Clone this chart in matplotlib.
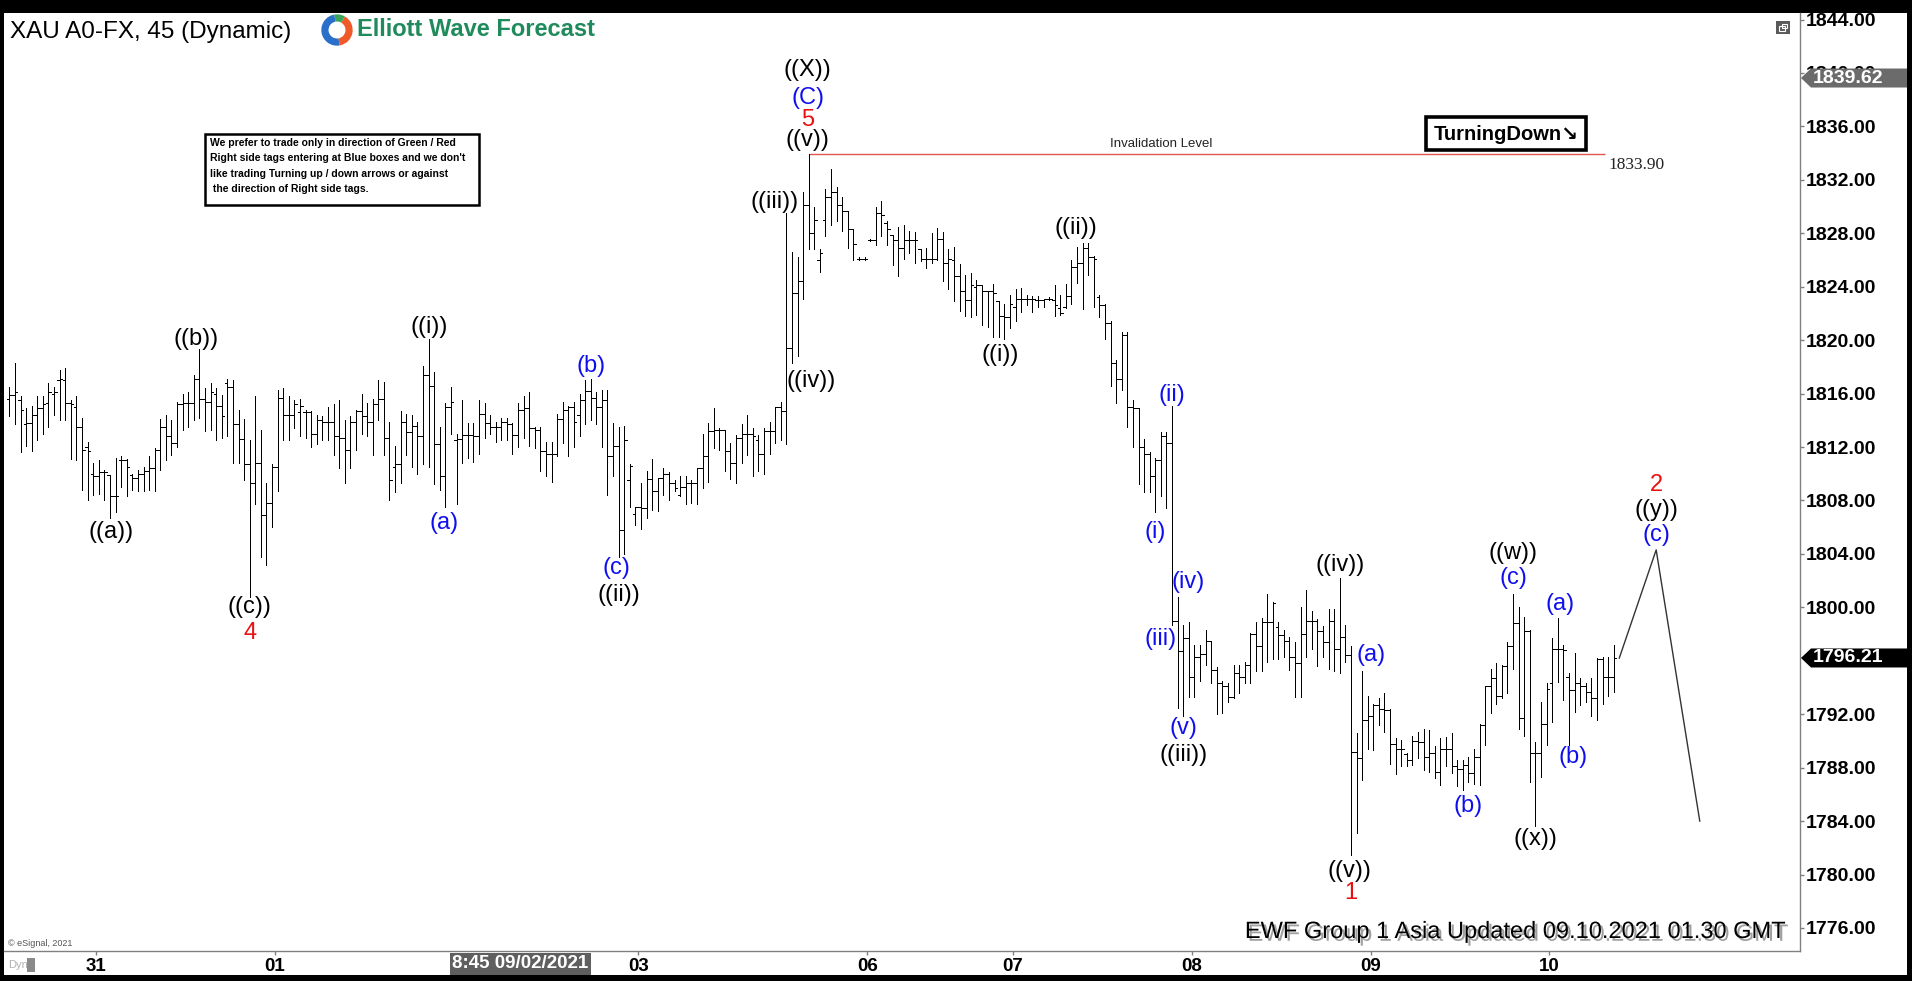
import matplotlib
matplotlib.use("Agg")
import matplotlib.pyplot as plt
import matplotlib.patches as mpatches
import matplotlib.transforms as mtransforms
import matplotlib.patheffects as pe
from matplotlib.collections import LineCollection
from matplotlib import font_manager

# ---------------- data (XAU 45 min bars) ----------------
opens = [
    # Aug 31
    1815.6, 1815.9, 1815.5, 1813.7, 1813.8, 1814.4, 1814.9, 1815.3, 1816.0, 1817.0,
    1817.0, 1815.3, 1815.0, 1813.5, 1812.0, 1810.0, 1809.8, 1810.1, 1809.9, 1808.3,
    1811.0, 1811.0, 1809.9, 1809.7, 1810.0, 1810.2, 1810.4, 1811.8, 1813.5, 1812.8,
    1812.3, 1815.2, 1815.3, 1815.3, 1817.1, 1815.6, 1815.4, 1816.0, 1815.1, 1816.8,
    1816.5, 1813.7, 1812.6, 1810.7, 1809.3, 1810.8, 1806.9, 1807.8, 1810.5, 1815.7,
    1814.4, 1814.4, 1814.6, 1814.6, 1814.6, 1813.0,
    # Sep 01 - 02
    1814.0, 1813.9, 1813.9, 1812.8, 1812.7, 1811.8, 1813.9, 1814.7, 1814.3, 1813.9,
    1815.2, 1815.6, 1812.7, 1810.5, 1810.7, 1813.9, 1813.1, 1813.6, 1812.8, 1817.4,
    1816.6, 1812.2, 1809.8, 1815.0, 1812.5, 1812.6, 1812.9, 1812.9, 1812.8, 1814.5,
    1813.8, 1813.5, 1813.5, 1813.9, 1813.7, 1812.9, 1814.8, 1814.9, 1813.4, 1813.3,
    1811.7, 1811.5, 1811.5, 1814.1, 1814.8, 1815.0, 1814.4, 1815.5, 1816.2, 1815.7,
    1815.0, 1815.5, 1811.3, 1812.1, 1805.8, 1809.5, 1807.0,
    # Sep 03 - 06
    1807.5, 1807.4, 1809.6, 1808.7, 1809.7, 1810.0, 1809.3, 1808.4, 1809.0, 1809.3,
    1809.3, 1810.4, 1811.3, 1813.2, 1813.3, 1813.3, 1811.7, 1810.8, 1812.7, 1813.0,
    1813.0, 1812.5, 1811.5, 1813.2, 1813.2, 1815.0, 1814.7, 1819.4, 1823.5, 1824.4,
    1830.1, 1828.0, 1826.0, 1829.0, 1830.7, 1831.1, 1830.1, 1829.7, 1828.3, 1826.1,
    1826.1, 1827.5, 1827.5, 1829.5, 1828.8, 1827.9, 1827.5, 1826.9, 1827.5, 1827.5,
    1826.8, 1826.1, 1826.1, 1826.1, 1827.6, 1825.8,
    # Sep 06 - 07
    1826.0, 1824.8, 1823.7, 1823.0, 1824.0, 1824.1, 1823.7, 1823.7, 1822.9, 1821.8,
    1821.7, 1822.5, 1823.1, 1823.1, 1823.1, 1823.0, 1823.0, 1823.1, 1823.0, 1822.4,
    1822.5, 1823.3, 1825.5, 1825.8, 1826.9, 1826.2, 1823.2, 1822.6, 1821.3, 1818.3,
    1817.1, 1820.4, 1815.0, 1814.9, 1812.0, 1811.5, 1809.8, 1811.0, 1812.8, 1812.3,
    1799.0, 1796.7, 1797.7, 1794.8, 1796.3, 1796.5, 1797.5, 1795.3, 1794.3, 1794.1,
    1793.3, 1795.1, 1794.8, 1795.7, 1798.0,
    # Sep 08 - 09
    1797.1, 1798.9, 1798.9, 1798.5, 1797.9, 1797.5, 1796.3, 1795.8, 1798.0, 1799.0,
    1799.0, 1798.2, 1797.4, 1799.0, 1796.9, 1797.8, 1796.4, 1789.2, 1788.7, 1791.6,
    1791.9, 1792.7, 1792.4, 1792.3, 1789.8, 1789.4, 1789.0, 1788.6, 1790.0, 1789.9,
    1788.8, 1789.1, 1787.7, 1789.4, 1789.4, 1788.1, 1787.9, 1788.2, 1787.6, 1788.8,
    1791.2, 1794.1, 1794.7, 1793.4, 1795.6, 1797.1, 1798.8, 1791.7, 1798.2, 1789.1,
    1789.1, 1791.3, 1794.3,
    # Sep 10
    1796.9, 1796.9, 1794.8, 1793.8, 1794.3, 1794.1, 1793.7, 1793.2, 1796.1, 1794.8,
    1794.8,
]

highs = [
    1816.5, 1818.3, 1815.8, 1814.9, 1815.1, 1815.8, 1815.8, 1816.8, 1816.5, 1817.8,
    1817.9, 1815.5, 1815.8, 1814.2, 1812.4, 1810.8, 1811.0, 1810.3, 1809.9, 1811.2,
    1811.3, 1811.1, 1810.0, 1810.3, 1810.5, 1811.3, 1811.9, 1814.1, 1814.4, 1814.0,
    1815.4, 1816.0, 1816.1, 1817.4, 1819.3, 1816.4, 1816.8, 1816.4, 1815.9, 1817.1,
    1817.0, 1814.8, 1814.1, 1812.5, 1815.8, 1813.3, 1809.3, 1810.7, 1816.3, 1816.4,
    1815.8, 1815.5, 1815.6, 1814.8, 1814.7, 1814.4,
    1814.3, 1815.0, 1815.2, 1815.5, 1814.0, 1814.3, 1814.8, 1816.0, 1815.3, 1815.6,
    1817.0, 1816.9, 1813.9, 1812.1, 1814.7, 1814.5, 1814.4, 1813.9, 1818.1, 1820.1,
    1817.6, 1813.5, 1815.3, 1816.5, 1813.0, 1815.5, 1813.8, 1813.8, 1815.5, 1815.3,
    1814.4, 1813.9, 1814.2, 1814.2, 1813.8, 1815.3, 1815.8, 1816.1, 1813.5, 1813.5,
    1812.4, 1812.4, 1814.5, 1815.4, 1815.1, 1815.4, 1816.0, 1817.0, 1817.1, 1816.1,
    1816.3, 1816.3, 1813.8, 1813.5, 1813.6, 1810.7, 1807.5,
    1809.3, 1810.2, 1811.1, 1809.7, 1810.4, 1810.1, 1809.5, 1809.8, 1809.8, 1809.5,
    1810.4, 1813.0, 1813.8, 1814.9, 1813.4, 1813.3, 1812.3, 1812.9, 1813.7, 1814.4,
    1813.4, 1812.9, 1813.4, 1813.9, 1815.0, 1815.4, 1829.5, 1826.6, 1826.2, 1831.1,
    1833.9, 1830.0, 1826.8, 1831.3, 1832.8, 1831.5, 1830.7, 1829.7, 1828.3, 1826.2,
    1826.2, 1827.6, 1830.0, 1830.4, 1828.9, 1827.9, 1828.5, 1828.6, 1828.2, 1828.1,
    1826.8, 1826.9, 1828.0, 1828.4, 1828.1, 1826.8,
    1827.0, 1825.7, 1824.9, 1825.0, 1824.5, 1824.1, 1823.7, 1824.2, 1822.9, 1822.7,
    1823.4, 1823.8, 1823.9, 1823.4, 1823.3, 1823.3, 1823.1, 1823.2, 1824.1, 1823.4,
    1824.2, 1826.0, 1827.0, 1827.3, 1827.3, 1826.3, 1823.4, 1822.7, 1821.4, 1818.5,
    1820.6, 1820.6, 1815.5, 1814.9, 1812.6, 1811.6, 1811.2, 1813.1, 1813.1, 1815.1,
    1800.8, 1798.7, 1798.9, 1797.2, 1797.2, 1798.3, 1797.5, 1795.5, 1794.5, 1794.3,
    1795.7, 1795.7, 1795.9, 1798.1, 1798.9,
    1799.2, 1801.0, 1800.4, 1798.9, 1798.3, 1797.8, 1797.4, 1800.0, 1801.3, 1799.7,
    1799.1, 1798.6, 1799.9, 1799.9, 1802.2, 1798.7, 1797.1, 1790.6, 1795.2, 1793.4,
    1792.8, 1793.2, 1793.6, 1792.4, 1790.2, 1790.1, 1789.1, 1790.4, 1790.7, 1790.9,
    1790.8, 1789.6, 1790.2, 1790.3, 1790.6, 1788.6, 1788.6, 1788.8, 1789.4, 1791.3,
    1794.1, 1795.4, 1795.8, 1795.7, 1797.4, 1801.0, 1800.0, 1799.3, 1798.3, 1789.9,
    1792.9, 1794.3, 1797.7,
    1799.2, 1797.2, 1795.1, 1796.6, 1794.7, 1794.3, 1794.7, 1796.2, 1796.3, 1796.3,
    1797.2,
]

lows = [
    1814.3, 1813.7, 1811.6, 1812.1, 1811.7, 1812.5, 1813.0, 1813.5, 1814.4, 1814.0,
    1814.0, 1811.1, 1811.0, 1808.8, 1808.0, 1808.4, 1808.5, 1808.0, 1806.7, 1807.1,
    1809.0, 1808.3, 1808.8, 1808.7, 1808.7, 1808.8, 1808.7, 1810.3, 1811.0, 1811.4,
    1812.0, 1813.3, 1813.5, 1814.0, 1814.2, 1813.2, 1813.3, 1812.5, 1812.7, 1812.8,
    1810.8, 1810.8, 1809.5, 1800.8, 1807.7, 1803.8, 1803.2, 1806.0, 1808.7, 1812.5,
    1812.5, 1813.4, 1812.8, 1812.7, 1812.0, 1812.2,
    1812.5, 1812.5, 1811.4, 1810.4, 1809.3, 1810.4, 1811.8, 1813.0, 1812.8, 1811.4,
    1814.0, 1811.4, 1808.0, 1808.6, 1809.3, 1811.4, 1810.5, 1810.0, 1810.7, 1810.5,
    1809.2, 1808.8, 1807.5, 1813.0, 1807.7, 1810.8, 1811.2, 1810.9, 1811.5, 1812.7,
    1813.0, 1812.4, 1812.5, 1812.5, 1811.5, 1812.0, 1812.7, 1812.1, 1811.9, 1810.2,
    1809.8, 1809.4, 1811.3, 1812.3, 1811.3, 1812.0, 1812.8, 1813.7, 1814.0, 1813.7,
    1812.0, 1808.4, 1809.8, 1803.8, 1804.0, 1807.5, 1806.2,
    1805.9, 1806.7, 1807.3, 1807.2, 1808.4, 1808.0, 1808.7, 1808.3, 1807.7, 1807.8,
    1807.7, 1808.9, 1809.4, 1811.9, 1811.8, 1810.2, 1809.6, 1809.3, 1810.8, 1811.4,
    1809.8, 1810.2, 1810.0, 1811.5, 1812.3, 1812.5, 1812.2, 1818.3, 1818.8, 1823.1,
    1826.8, 1826.8, 1825.1, 1827.8, 1828.6, 1828.9, 1828.2, 1826.9, 1826.0, 1826.0,
    1826.0, 1827.4, 1827.1, 1827.8, 1827.1, 1825.6, 1824.8, 1826.1, 1826.5, 1825.8,
    1825.9, 1825.4, 1825.8, 1826.0, 1824.4, 1823.8,
    1822.9, 1822.2, 1821.8, 1821.7, 1821.9, 1821.1, 1821.0, 1820.2, 1820.2, 1820.1,
    1820.9, 1821.4, 1822.1, 1822.6, 1822.1, 1822.5, 1822.5, 1823.0, 1821.8, 1821.9,
    1822.4, 1822.7, 1824.3, 1822.3, 1824.9, 1822.5, 1821.7, 1820.1, 1816.6, 1815.3,
    1816.3, 1813.5, 1812.0, 1809.2, 1808.6, 1808.6, 1807.1, 1808.3, 1807.4, 1798.7,
    1792.5, 1791.9, 1793.3, 1793.3, 1794.5, 1795.7, 1794.3, 1792.0, 1792.1, 1792.9,
    1793.2, 1793.6, 1794.3, 1794.3, 1795.2,
    1795.2, 1795.9, 1796.1, 1796.1, 1796.3, 1795.3, 1793.3, 1793.3, 1796.3, 1796.9,
    1795.6, 1796.3, 1795.4, 1795.2, 1795.1, 1795.9, 1781.5, 1783.1, 1787.1, 1789.4,
    1789.3, 1791.2, 1790.7, 1788.3, 1787.5, 1788.1, 1788.1, 1788.2, 1788.7, 1787.8,
    1787.7, 1787.2, 1786.7, 1788.1, 1787.6, 1786.6, 1786.3, 1786.9, 1786.8, 1786.7,
    1789.7, 1792.1, 1792.8, 1793.2, 1793.6, 1795.4, 1790.9, 1790.4, 1786.9, 1783.6,
    1787.3, 1789.7, 1791.4,
    1794.4, 1793.1, 1789.7, 1792.2, 1792.7, 1792.9, 1791.9, 1791.6, 1792.8, 1793.4,
    1793.7,
]

closes = [
    1815.9, 1816.1, 1814.8, 1813.8, 1814.4, 1814.9, 1815.2, 1816.1, 1816.1, 1817.1,
    1815.3, 1815.2, 1813.5, 1811.8, 1811.7, 1809.8, 1810.1, 1810.1, 1808.3, 1808.3,
    1811.0, 1810.5, 1809.7, 1810.0, 1810.2, 1810.4, 1811.8, 1813.5, 1812.8, 1812.3,
    1815.2, 1815.3, 1815.3, 1817.1, 1815.6, 1815.4, 1816.1, 1815.1, 1814.3, 1816.5,
    1813.7, 1812.6, 1810.7, 1809.3, 1810.8, 1806.9, 1807.8, 1810.5, 1815.7, 1814.4,
    1814.4, 1815.2, 1815.1, 1814.6, 1813.0, 1814.0,
    1813.9, 1813.9, 1812.8, 1812.7, 1811.8, 1813.9, 1814.7, 1814.3, 1813.9, 1815.2,
    1815.6, 1812.7, 1809.5, 1810.7, 1813.9, 1813.1, 1813.6, 1812.8, 1817.4, 1816.6,
    1812.2, 1809.8, 1815.0, 1815.4, 1812.6, 1812.9, 1812.9, 1812.8, 1814.5, 1813.8,
    1813.5, 1813.5, 1813.9, 1813.7, 1812.9, 1814.8, 1814.9, 1813.4, 1813.3, 1811.7,
    1811.5, 1811.5, 1814.1, 1814.8, 1815.0, 1813.9, 1815.5, 1816.2, 1815.7, 1815.0,
    1815.5, 1811.3, 1812.1, 1805.8, 1812.5, 1810.6, 1807.5,
    1807.4, 1809.6, 1808.7, 1809.7, 1810.0, 1809.3, 1808.9, 1809.0, 1809.3, 1809.3,
    1810.4, 1811.3, 1813.2, 1813.3, 1813.3, 1811.7, 1810.8, 1812.7, 1813.0, 1813.0,
    1812.8, 1811.5, 1813.2, 1813.2, 1815.0, 1814.7, 1819.4, 1823.5, 1824.4, 1830.1,
    1828.0, 1829.0, 1826.5, 1830.7, 1831.1, 1830.1, 1829.7, 1828.3, 1827.2, 1826.1,
    1826.1, 1827.5, 1829.5, 1829.4, 1828.3, 1827.5, 1826.9, 1827.5, 1827.5, 1827.5,
    1826.1, 1826.1, 1826.1, 1827.6, 1825.8, 1826.1,
    1824.8, 1823.7, 1823.0, 1824.1, 1824.1, 1823.7, 1823.7, 1823.5, 1821.8, 1821.7,
    1822.7, 1823.1, 1823.1, 1823.1, 1823.1, 1823.0, 1823.1, 1823.1, 1822.6, 1822.0,
    1823.3, 1825.5, 1825.8, 1826.9, 1826.2, 1826.1, 1822.6, 1821.3, 1818.3, 1817.1,
    1820.4, 1815.0, 1814.9, 1812.0, 1811.5, 1809.8, 1811.0, 1812.8, 1812.3, 1799.0,
    1796.7, 1797.7, 1794.8, 1796.3, 1796.5, 1797.5, 1795.3, 1794.3, 1794.1, 1793.3,
    1795.1, 1794.8, 1795.7, 1798.0, 1797.1,
    1798.9, 1798.9, 1800.3, 1797.9, 1797.5, 1796.3, 1795.8, 1798.0, 1799.0, 1799.0,
    1798.2, 1797.4, 1799.0, 1796.9, 1797.8, 1796.4, 1789.2, 1788.7, 1791.6, 1791.9,
    1792.7, 1792.4, 1792.3, 1789.8, 1789.4, 1789.4, 1788.6, 1790.0, 1789.9, 1788.8,
    1789.1, 1787.7, 1789.4, 1789.4, 1788.1, 1787.9, 1788.2, 1787.6, 1788.8, 1791.2,
    1794.1, 1794.7, 1793.4, 1795.6, 1797.1, 1798.8, 1791.7, 1798.2, 1789.1, 1789.1,
    1791.3, 1793.9, 1796.9,
    1796.9, 1796.8, 1793.8, 1794.3, 1794.1, 1793.7, 1793.2, 1796.1, 1794.8, 1794.8,
    1796.2,
]

# bar index where each day starts (session break)
day_ticks = [15.5, 47.5, 112.5, 153.5, 179.5, 211.5, 243.5, 275.5]
day_labels = ['31', '01', '03', '06', '07', '08', '09', '10']
cursor_bar = 91.4
cursor_label = '8:45 09/02/2021'

# 1796.00 sits under the last-price flag, so it is not listed
price_ticks = [1776, 1780, 1784, 1788, 1792, 1800, 1804, 1808, 1812, 1816, 1820,
               1824, 1828, 1832, 1836, 1840, 1844]

# projected path after the last bar
proj_x = [288.0, 294.6, 302.4]
proj_y = [1796.2, 1804.3, 1784.0]

invalidation = 1833.90
inval_end = 285.5
last_price = 1796.21
marker_price = 1839.62

# wave labels: (bar, side, text, colour key)
wave_bar = [18, 34, 43, 43, 75, 78, 104, 109, 109, 139, 140, 143, 143, 143, 143,
            178, 192, 205, 208, 208, 209, 210, 210, 238, 240, 240, 242, 260, 269,
            269, 273, 277, 279]
wave_side = ['low', 'high', 'low', 'low', 'high', 'low', 'high', 'low', 'low',
             'high', 'low', 'high', 'high', 'high', 'high', 'low', 'high', 'low',
             'high', 'low', 'high', 'low', 'low', 'high', 'low', 'low', 'high',
             'low', 'high', 'high', 'low', 'high', 'low']
wave_text = ['((a))', '((b))', '((c))', '4', '((i))', '(a)', '(b)', '(c)', '((ii))',
             '((iii))', '((iv))', '((v))', '5', '(C)', '((X))', '((i))', '((ii))',
             '(i)', '(ii)', '(iii)', '(iv)', '(v)', '((iii))', '((iv))', '((v))', '1',
             '(a)', '(b)', '(c)', '((w))', '((x))', '(a)', '(b)']
wave_col = ['k', 'k', 'k', 'r', 'k', 'b', 'b', 'b', 'k', 'k', 'k', 'k', 'r', 'b', 'k',
            'k', 'k', 'b', 'b', 'b', 'b', 'b', 'k', 'k', 'k', 'r', 'b', 'b', 'b', 'k',
            'k', 'b', 'b']
# label offsets from the bar extreme, in pixels
wave_dx = [1, -3, 0, 0, 1, -1, 0, -2, 0, -12, 19, -1, -1, -1, -1, -4, -7, 0, 0, -12,
           10, 0, 0, 0, -2, 0, 9, 5, 0, 0, 0, 2, 4]
wave_dy = [-14, 10.5, -10.5, -36, 12, -16, 13, -11.5, -38, 11, -18, 14, 34, 56, 84,
           -16.5, 15, -19.5, 11, -14, 15, -12.5, -39.5, 13, -16.5, -38.5, 16.5, -16,
           15.5, 41, -13, 14, -12]
proj_text = ['(c)', '((y))', '2']
proj_col = ['b', 'k', 'r']
proj_dy = [15, 40, 65]

# ---------------- layout helpers ----------------
W, H = 1912, 981
PX_PER_BAR = 5.59
PX_PER_USD = 13.36
COLORS = {'k': 'black', 'b': '#0f0fee', 'r': '#e81010'}


def fx(px):
    return px / W


def fy(py):
    return 1 - py / H


def bar_at(px):
    return 15.5 + (px - 96) / PX_PER_BAR


def price_at(py):
    return 1844 - (py - 19.5) / PX_PER_USD


names = {f.name for f in font_manager.fontManager.ttflist}
SANS = 'Liberation Sans' if 'Liberation Sans' in names else 'DejaVu Sans'
NARROW = 'Liberation Sans Narrow' if 'Liberation Sans Narrow' in names else SANS
SERIF = 'Liberation Serif' if 'Liberation Serif' in names else 'DejaVu Serif'
plt.rcParams['font.family'] = [SANS, 'DejaVu Sans']

fig = plt.figure(figsize=(19.12, 9.81), dpi=100, facecolor='black')
fig.add_artist(mpatches.Rectangle((fx(4), fy(975)), fx(1907) - fx(4), (975 - 13) / H,
                                  transform=fig.transFigure, facecolor='white',
                                  edgecolor='none', zorder=-5))

ax = fig.add_axes([fx(4), fy(951), fx(1800) - fx(4), (951 - 13) / H])
ax.set_facecolor('white')
ax.set_xlim(bar_at(4), bar_at(1800))
ax.set_ylim(price_at(951), price_at(13))

# OHLC bars
segs = []
for i, (o, h, l, c) in enumerate(zip(opens, highs, lows, closes)):
    segs.append([(i, l), (i, h)])
    segs.append([(i - 0.45, o), (i, o)])
    segs.append([(i, c), (i + 0.45, c)])
ax.add_collection(LineCollection(segs, colors='black', linewidths=0.7,
                                 antialiaseds=False, zorder=3))

# projection path
ax.plot(proj_x, proj_y, color='#333333', lw=1.0, zorder=3)

# invalidation level
ax.hlines(invalidation, 143, inval_end, color='#e05555', lw=1.0, zorder=2)
ax.text(bar_at(1161), invalidation + 0.3, 'Invalidation Level', fontsize=9.5,
        ha='center', va='bottom', color='#222222')
ax.text(bar_at(1608), price_at(165), f'{invalidation:.2f}', fontsize=12.5,
        family=SERIF, ha='left', va='center', color='#222222')

# wave labels
for b, s, t, c, dx, dy in zip(wave_bar, wave_side, wave_text, wave_col, wave_dx, wave_dy):
    y = highs[b] if s == 'high' else lows[b]
    ax.annotate(t, (b, y), xytext=(dx, dy), textcoords='offset pixels',
                ha='center', va='center', fontsize=17, color=COLORS[c], zorder=5)
for t, c, dy in zip(proj_text, proj_col, proj_dy):
    ax.annotate(t, (proj_x[1], proj_y[1]), xytext=(0, dy), textcoords='offset pixels',
                ha='center', va='center', fontsize=17, color=COLORS[c], zorder=5)

# axes styling
for side in ['top', 'left']:
    ax.spines[side].set_visible(False)
for side in ['right', 'bottom']:
    ax.spines[side].set_color('#808080')
    ax.spines[side].set_linewidth(1.0)
ax.yaxis.tick_right()
ax.set_yticks(price_ticks, [f'{p:.2f}' for p in price_ticks])
ax.set_xticks(day_ticks, day_labels)
ax.tick_params(axis='y', length=3, width=1, color='#808080', pad=1,
               labelsize=14, labelcolor='black')
ax.tick_params(axis='x', length=3, width=1, color='#808080', pad=2,
               labelsize=13.5, labelcolor='black')
for lab in ax.get_yticklabels() + ax.get_xticklabels():
    lab.set_fontweight('bold')

# cursor time box on x axis
tr_xb = mtransforms.blended_transform_factory(ax.transData, fig.transFigure)
ax.text(cursor_bar, fy(964), cursor_label, transform=tr_xb, ha='center', va='center',
        fontsize=13.5, fontweight='bold', color='white', zorder=6, clip_on=False,
        bbox=dict(boxstyle='square,pad=0.12', facecolor='#5f5f5f', edgecolor='none'))

# price flags on the right axis
tr_fy = mtransforms.blended_transform_factory(fig.transFigure, ax.transData)


def price_flag(price, color):
    h = 9.5 / PX_PER_USD
    pts = [(fx(1801), price), (fx(1811), price + h), (fx(1907), price + h),
           (fx(1907), price - h), (fx(1811), price - h)]
    ax.add_patch(mpatches.Polygon(pts, closed=True, transform=tr_fy, facecolor=color,
                                  edgecolor='none', clip_on=False, zorder=6))
    ax.text(fx(1813), price, f'{price:.2f}', transform=tr_fy, color='white',
            fontsize=14, fontweight='bold', ha='left', va='center', zorder=7,
            clip_on=False)


price_flag(marker_price, '#6b6b6b')
price_flag(last_price, 'black')

# ---------------- header / annotations ----------------
fig.text(fx(10), fy(32), 'XAU A0-FX, 45 (Dynamic)', fontsize=17.5, ha='left',
         va='center', color='black')

lax = fig.add_axes([fx(321), fy(46), fx(32), 32 / H])
lax.set_xlim(-1, 1)
lax.set_ylim(-1, 1)
lax.set_aspect('equal')
lax.axis('off')
lax.add_patch(mpatches.Wedge((0, 0), 0.98, 100, 280, width=0.45, facecolor='#2a6fc9'))
lax.add_patch(mpatches.Wedge((0, 0), 0.98, -80, 60, width=0.45, facecolor='#f0592a'))
lax.add_patch(mpatches.Wedge((0, 0), 0.98, 60, 100, width=0.45, facecolor='#3aa657'))
fig.text(fx(357), fy(30), 'Elliott Wave Forecast', fontsize=17, fontweight='bold',
         ha='left', va='center', color='#1f8a5b')

fig.add_artist(mpatches.Rectangle((fx(205), fy(205)), fx(479) - fx(205), (205 - 134) / H,
                                  transform=fig.transFigure, facecolor='white',
                                  edgecolor='black', lw=1.8, zorder=4))
fig.text(fx(210), fy(138),
         "We prefer to trade only in direction of Green / Red\n"
         "Right side tags entering at Blue boxes and we don't\n"
         "like trading Turning up / down arrows or against\n"
         " the direction of Right side tags.",
         family=NARROW, fontsize=7.5, fontweight='bold', ha='left', va='top',
         linespacing=1.68, zorder=5)

fig.add_artist(mpatches.Rectangle((fx(1426), fy(150)), fx(1586) - fx(1426), 33 / H,
                                  transform=fig.transFigure, facecolor='white',
                                  edgecolor='black', lw=2.6, zorder=4))
fig.text(fx(1506), fy(134), 'TurningDown\u2198', fontsize=14.5, fontweight='bold',
         family=[SANS, 'DejaVu Sans'], ha='center', va='center', zorder=5)

# small window icon top right
fig.add_artist(mpatches.Rectangle((fx(1776), fy(34)), 14 / W, 13 / H,
                                  transform=fig.transFigure, facecolor='#5a5a5a',
                                  edgecolor='none', zorder=4))
fig.add_artist(mpatches.Rectangle((fx(1779), fy(31)), 6 / W, 5 / H,
                                  transform=fig.transFigure, facecolor='none',
                                  edgecolor='white', lw=0.8, zorder=5))
fig.add_artist(mpatches.Rectangle((fx(1782), fy(28)), 5 / W, 4 / H,
                                  transform=fig.transFigure, facecolor='none',
                                  edgecolor='white', lw=0.8, zorder=5))

fig.text(fx(1786), fy(932), 'EWF Group 1 Asia Updated 09.10.2021 01.30 GMT',
         fontsize=17, ha='right', va='center', color='black', zorder=6,
         path_effects=[pe.SimplePatchShadow(offset=(2, -2), shadow_rgbFace='#777777',
                                            alpha=0.7), pe.Normal()])

fig.text(fx(8), fy(943), '\u00a9 eSignal, 2021', fontsize=6.5, color='#555555',
         ha='left', va='center')
fig.text(fx(8), fy(965), 'Dyn', fontsize=8, color='#b0b0b0', ha='left', va='center')
fig.add_artist(mpatches.Rectangle((fx(27), fy(972)), 8 / W, 14 / H,
                                  transform=fig.transFigure, facecolor='#8a8a8a',
                                  edgecolor='none', zorder=4))

fig.savefig('out.png', dpi=100, facecolor='black')
